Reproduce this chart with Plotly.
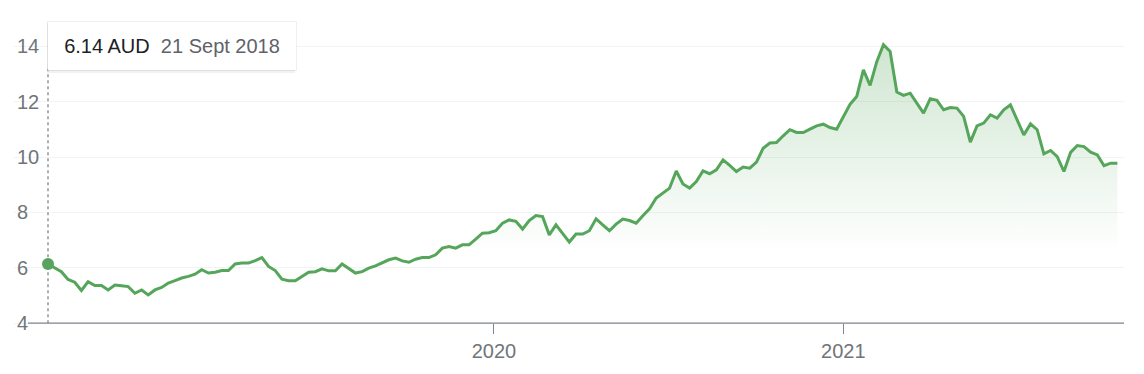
import pandas as pd
import plotly.graph_objects as go

# ---- data (weekly closing prices, AUD) ----
start_date = "2018-09-21"
prices = [
    6.14, 6.00, 5.86, 5.58, 5.48, 5.18, 5.50, 5.36, 5.36, 5.20, 5.38, 5.35, 5.32, 5.08, 5.20, 5.02,
    5.20, 5.29, 5.45, 5.54, 5.63, 5.69, 5.77,
    5.93, 5.81, 5.84, 5.90, 5.90, 6.14, 6.17, 6.17, 6.26, 6.37, 6.05, 5.90, 5.59, 5.53, 5.53, 5.69,
    5.84, 5.86, 5.96, 5.89, 5.89, 6.14, 5.99, 5.81,
    5.86, 5.99, 6.07, 6.19, 6.29, 6.35, 6.25, 6.20, 6.31, 6.37, 6.37, 6.47, 6.71, 6.77, 6.71, 6.83,
    6.83, 7.04, 7.25, 7.27, 7.34, 7.61, 7.73,
    7.68, 7.40, 7.71, 7.89, 7.85, 7.19, 7.55, 7.25, 6.93, 7.22, 7.22, 7.34, 7.77, 7.55, 7.34, 7.58,
    7.76, 7.71, 7.61, 7.88, 8.13, 8.52, 8.70,
    8.88, 9.50, 9.03, 8.88, 9.12, 9.50, 9.40, 9.54, 9.90, 9.70, 9.48, 9.64, 9.60, 9.82, 10.32, 10.51,
    10.53, 10.77, 10.99, 10.89, 10.89, 11.01, 11.13,
    11.19, 11.07, 11.01, 11.47, 11.91, 12.19, 13.15, 12.59, 13.45, 14.06, 13.82, 12.35, 12.23, 12.31,
    11.95, 11.59, 12.11, 12.05, 11.71, 11.79, 11.77, 11.47, 10.54,
    11.13, 11.23, 11.53, 11.41, 11.71, 11.89, 11.35, 10.80, 11.20, 10.99, 10.12, 10.24, 10.02, 9.48,
    10.17, 10.42, 10.38, 10.18, 10.08, 9.69, 9.78, 9.78,
]
dates = pd.date_range(start=start_date, periods=len(prices), freq="7D")

x_tick_vals = ["2020-01-01", "2021-01-01"]
x_tick_text = ["2020", "2021"]
y_tick_vals = [4, 6, 8, 10, 12, 14]
y_base = 4

tooltip_price = "6.14 AUD"
tooltip_date = "21 Sept 2018"

# ---- styling ----
GREEN = "#55a65a"
FONT = "Liberation Sans, Arial, sans-serif"
W, H = 1144, 374
px_per_unit = 27.66
base_px = 323            # pixel row of the value 4 baseline
extra = 0.5              # range extension below baseline so the "4" label fits
ML, MR, MT = 14, 20, 20
MB = H - base_px - extra * px_per_unit
plot_h = H - MT - MB
y_bottom = y_base - extra
y_top = y_bottom + plot_h / px_per_unit

px_per_day = 0.9548
first_px = 48
x0 = dates[0] - pd.Timedelta(days=(first_px - ML) / px_per_day)
x1 = dates[0] + pd.Timedelta(days=(W - MR - first_px) / px_per_day)

fig = go.Figure()

fig.add_trace(go.Scatter(
    x=dates, y=prices, mode="lines",
    line=dict(color=GREEN, width=3),
    fill="tozeroy",
    fillgradient=dict(
        type="vertical", start=6.5, stop=14.0,
        colorscale=[[0, "rgba(85,166,90,0)"], [1, "rgba(85,166,90,0.28)"]],
    ),
    hoverinfo="skip", showlegend=False,
))

fig.add_trace(go.Scatter(
    x=[dates[0]], y=[prices[0]], mode="markers",
    marker=dict(color=GREEN, size=12),
    hoverinfo="skip", showlegend=False,
))

# dotted vertical cursor line
fig.add_shape(type="line", xref="x", yref="y",
              x0=dates[0], x1=dates[0], y0=y_base, y1=13.3,
              line=dict(color="#80868b", width=1.3, dash="dot"))
# x axis baseline
fig.add_shape(type="line", xref="paper", yref="y",
              x0=(28 - ML) / (W - ML - MR), x1=1, y0=y_base, y1=y_base,
              line=dict(color="#80868b", width=1.2))

tip_y = y_base + (base_px - 45.8) / px_per_unit
for ys, col in [(-3, "rgba(0,0,0,0.05)"), (-1.5, "rgba(0,0,0,0.10)")]:
    fig.add_annotation(
        xref="x", yref="y", x=dates[0], y=tip_y, xanchor="left", yanchor="middle",
        xshift=-1, yshift=ys, text=" ", showarrow=False, width=248, height=48,
        bgcolor=col, borderpad=0, borderwidth=0,
    )
fig.add_annotation(
    xref="x", yref="y", x=dates[0], y=tip_y, xanchor="left", yanchor="middle",
    xshift=-1,
    text=(f"<span style='color:#202124'>{tooltip_price}</span>&nbsp;&nbsp;"
          f"<span style='color:#5f6368'>{tooltip_date}</span>"),
    showarrow=False, width=248, height=48, align="center",
    bgcolor="white", bordercolor="rgba(0,0,0,0.06)", borderwidth=1, borderpad=0,
    font=dict(family=FONT, size=20),
)

fig.update_layout(
    width=W, height=H,
    margin=dict(l=ML, r=MR, t=MT, b=MB),
    paper_bgcolor="white", plot_bgcolor="white",
    font=dict(family=FONT, color="#70757a"),
    xaxis=dict(
        type="date", range=[x0, x1],
        anchor="free", position=(extra * px_per_unit) / plot_h,
        tickvals=x_tick_vals, ticktext=x_tick_text,
        ticks="outside", ticklen=10, tickwidth=1.2, tickcolor="#80868b",
        tickfont=dict(size=20, color="#70757a"),
        showgrid=False, zeroline=False, showline=False,
    ),
    yaxis=dict(
        range=[y_bottom, y_top], tickvals=y_tick_vals,
        ticklabelposition="inside", ticks="",
        tickfont=dict(size=20, color="#70757a"),
        showgrid=True, gridcolor="#f1f3f4", gridwidth=1,
        zeroline=False, showline=False,
    ),
)

fig.write_html("out.html")
